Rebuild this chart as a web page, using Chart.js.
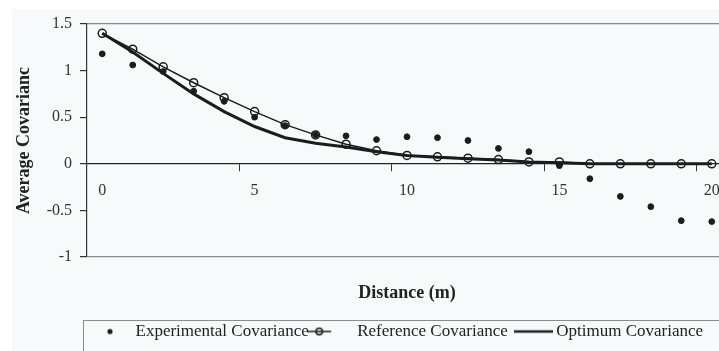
<!DOCTYPE html>
<html lang="en">
<head>
  <meta charset="UTF-8" />
  <title>Average Covariance vs Distance</title>
  <script src="https://cdn.jsdelivr.net/npm/chart.js"></script>
  <style>
    body {
      margin: 0;
      padding: 0;
      background: white;
      overflow: hidden;
    }
    #wrap {
      width: 740px;
      height: 360px;
    }
  </style>
</head>
<body>
  <div id="wrap">
    <canvas id="covChart"></canvas>
  </div>

  <script>
    // distance lags (m)
    const distances = ["0","1","2","3","4","5","6","7","8","9","10","11","12","13","14","15","16","17","18","19","20"];
    const experimental = [1.18, 1.06, 0.99, 0.78, 0.67, 0.50, 0.41, 0.31, 0.30, 0.26, 0.29, 0.28, 0.25, 0.165, 0.13, -0.02, -0.16, -0.35, -0.46, -0.61, -0.62];
    const reference = [1.40, 1.23, 1.04, 0.87, 0.71, 0.56, 0.42, 0.31, 0.21, 0.14, 0.09, 0.075, 0.06, 0.045, 0.02, 0.02, 0, 0, 0, 0, 0];
    const optimum = [1.40, 1.20, 0.97, 0.75, 0.56, 0.40, 0.28, 0.22, 0.18, 0.13, 0.09, 0.07, 0.055, 0.04, 0.02, 0.01, 0, 0, 0, 0, 0];
    const yTicks = [-1, -0.5, 0, 0.5, 1, 1.5];

    const serif = "'Liberation Serif', 'Times New Roman', serif";
    const ink = "#1c1c1c";

    // small legend icons (padded so they sit where the original keys are)
    function makeIcon(w, h, draw) {
      const c = document.createElement("canvas");
      c.width = w;
      c.height = h;
      draw(c.getContext("2d"));
      return c;
    }
    const dotIcon = makeIcon(12, 10, g => {
      g.fillStyle = ink;
      g.beginPath();
      g.arc(3, 5, 2.6, 0, Math.PI * 2);
      g.fill();
    });
    const refIcon = makeIcon(55, 12, g => {
      g.strokeStyle = ink;
      g.lineWidth = 1.5;
      g.beginPath();
      g.moveTo(0, 6); g.lineTo(24, 6);
      g.stroke();
      g.beginPath();
      g.arc(12, 6, 3.2, 0, Math.PI * 2);
      g.stroke();
    });
    const optIcon = makeIcon(39, 8, g => {
      g.strokeStyle = ink;
      g.lineWidth = 2.6;
      g.beginPath();
      g.moveTo(0, 4); g.lineTo(39, 4);
      g.stroke();
    });
    const icons = [dotIcon, refIcon, optIcon];

    const backdrop = {
      id: "backdrop",
      beforeDraw(chart) {
        const g = chart.ctx;
        g.save();
        g.fillStyle = "#ffffff";
        g.fillRect(0, 0, chart.width, chart.height);
        g.fillStyle = "#f8f9fb";
        g.fillRect(12, 9, chart.width - 12, chart.height - 9);
        g.restore();
      },
      afterDraw(chart) {
        const lg = chart.legend;
        const g = chart.ctx;
        g.save();
        g.strokeStyle = "#8c8c8c";
        g.lineWidth = 1;
        g.strokeRect(lg.left - 3.5, lg.top + 9.5, chart.width, 60);
        g.restore();
      }
    };

    const ctx = document.getElementById("covChart").getContext("2d");
    new Chart(ctx, {
      type: "line",
      data: {
        labels: distances,
        datasets: [
          {
            label: "Experimental Covariance",
            data: experimental,
            showLine: false,
            pointRadius: 2.9,
            pointBackgroundColor: ink,
            pointBorderColor: ink,
            borderColor: ink,
            xAxisID: "x",
            yAxisID: "y"
          },
          {
            label: "Reference Covariance",
            data: reference,
            borderColor: ink,
            borderWidth: 1.5,
            pointRadius: 4,
            pointBorderWidth: 1.5,
            pointBorderColor: ink,
            pointBackgroundColor: "rgba(0,0,0,0)",
            xAxisID: "x",
            yAxisID: "y"
          },
          {
            label: "Optimum Covariance",
            data: optimum,
            borderColor: ink,
            borderWidth: 3,
            pointRadius: 0,
            xAxisID: "x",
            yAxisID: "y"
          }
        ]
      },
      options: {
        responsive: true,
        maintainAspectRatio: false,
        animation: false,
        layout: { padding: { left: 12, top: 24, right: 13, bottom: 10 } },
        plugins: {
          tooltip: { enabled: false },
          legend: {
            position: "bottom",
            fullSize: false,
            align: "start",
            labels: {
              usePointStyle: true,
              pointStyleWidth: 28,
              padding: 12,
              color: "#222",
              font: { family: serif, size: 17 },
              generateLabels(chart) {
                const items = Chart.defaults.plugins.legend.labels.generateLabels(chart);
                items.forEach((it, i) => { it.pointStyle = icons[i]; });
                return items;
              }
            }
          }
        },
        scales: {
          x: {
            type: "category",
            offset: true,
            position: { y: 0 },
            grid: {
              offset: true,
              drawOnChartArea: false,
              tickLength: 7,
              tickColor: c => (c.index > 0 && c.index % 5 === 0) ? "#333" : "rgba(0,0,0,0)"
            },
            border: { color: "#222", width: 1.2 },
            ticks: {
              autoSkip: false,
              maxRotation: 0,
              padding: 10,
              color: "#333",
              font: { family: serif, size: 16 },
              callback: (v, i) => i % 5 === 0 ? distances[i] : ""
            }
          },
          x2: {
            type: "category",
            position: "bottom",
            grid: { display: false },
            border: { display: false },
            ticks: { display: false },
            title: {
              display: true,
              text: "Distance (m)",
              color: "#222",
              font: { family: serif, size: 18, weight: "bold" },
              padding: { top: 0, bottom: 7 }
            },
            afterFit(scale) { scale.height = 54; }
          },
          y: {
            min: -1,
            max: 1.5,
            afterBuildTicks(scale) {
              scale.ticks = yTicks.map(v => ({ value: v }));
            },
            grid: {
              color: c => (c.tick && (c.tick.value === 1.5 || c.tick.value === -1)) ? "#8c8c8c" : "rgba(0,0,0,0)",
              lineWidth: 1.2,
              tickLength: 7,
              tickColor: "#333"
            },
            border: { color: "#333", width: 1.2 },
            ticks: {
              padding: 8,
              color: "#333",
              font: { family: serif, size: 16 },
              callback: v => String(v)
            },
            title: {
              display: true,
              text: "Average Covarianc",
              color: "#222",
              font: { family: serif, size: 18, weight: "bold" },
              padding: { top: 2, bottom: 4 }
            },
            afterFit(scale) { scale.width = 75; }
          }
        }
      },
      plugins: [backdrop]
    });
  </script>
</body>
</html>
